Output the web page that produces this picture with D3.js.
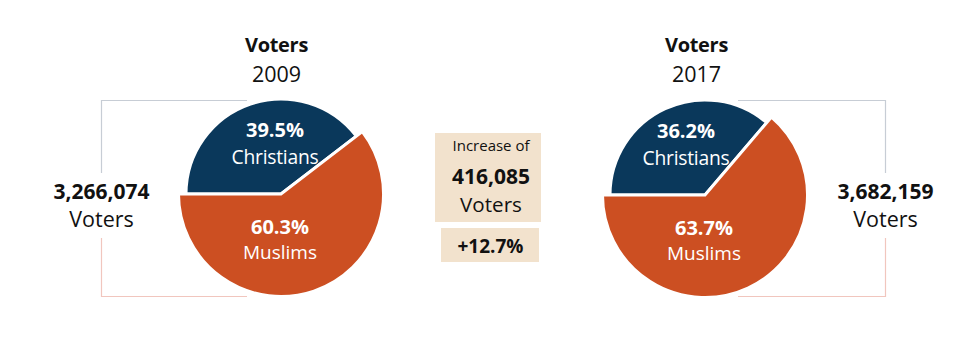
<!DOCTYPE html>
<html>
<head>
<meta charset="utf-8">
<script src="https://cdn.jsdelivr.net/npm/d3@7"></script>
<style>
  html, body { margin: 0; padding: 0; background: #fff; }
  svg { display: block; font-family: "Open Sans", "Noto Sans", sans-serif; }
</style>
</head>
<body>
<svg id="chart" width="980" height="338"></svg>
<script>
// Voter composition by religion, two election years
const years = ["2009", "2017"];
const categories = ["Christians", "Muslims"];
const shares2009 = [39.5, 60.3];
const shares2017 = [36.2, 63.7];
const voterTotals = [3266074, 3682159];
const increaseVoters = [416085];
const increasePercent = [12.7];

const colors = { Christians: "#0a385b", Muslims: "#cc4f22" };
const radius = { Christians: 95, Muslims: 102.5 };
const ink = "#111";

const svg = d3.select("#chart");
const fmtInt = d3.format(",");
const fmtPct = d3.format(".1f");

const pies = [
  { year: years[0], shares: shares2009, total: voterTotals[0], cx: 281, cy: 194, side: "left",  labelDx: [-6, -1],  titleDx: -4.5 },
  { year: years[1], shares: shares2017, total: voterTotals[1], cx: 705, cy: 195, side: "right", labelDx: [-19, -1], titleDx: -8.5 }
];

const pie = d3.pie().sort(null).value(d => d.value)
  .startAngle(-Math.PI / 2).endAngle(1.5 * Math.PI);

// label placement per category: [value, name] baselines
const labelY = { Christians: [-57, -30], Muslims: [40, 65] };
const nameStyle = {
  Christians: { size: 19.3, spacing: -0.25 },
  Muslims: { size: 19, spacing: 0 }
};

pies.forEach(p => {
  const data = categories.map((c, i) => ({ category: c, value: p.shares[i] }));
  const arcs = pie(data);
  const g = svg.append("g").attr("transform", `translate(${p.cx},${p.cy})`);

  g.selectAll("path.slice")
    .data(arcs)
    .join("path")
    .attr("class", "slice")
    .attr("d", d => d3.arc().innerRadius(0).outerRadius(radius[d.data.category])(d))
    .attr("fill", d => colors[d.data.category])
    .attr("stroke", "#fff")
    .attr("stroke-width", 3)
    .attr("stroke-linejoin", "miter");

  arcs.forEach((a, i) => {
    const c = a.data.category;
    const dx = p.labelDx[i];
    g.append("text")
      .attr("x", dx).attr("y", labelY[c][0])
      .attr("text-anchor", "middle")
      .attr("fill", "#fff")
      .attr("font-weight", 700)
      .attr("font-size", 20)
      .text(fmtPct(a.data.value) + "%");
    g.append("text")
      .attr("x", dx).attr("y", labelY[c][1])
      .attr("text-anchor", "middle")
      .attr("fill", "#fff")
      .attr("font-size", nameStyle[c].size)
      .attr("letter-spacing", nameStyle[c].spacing)
      .text(c);
  });

  // heading
  svg.append("text")
    .attr("x", p.cx + p.titleDx).attr("y", 52)
    .attr("text-anchor", "middle").attr("font-weight", 700).attr("font-size", 20)
    .attr("letter-spacing", -0.3)
    .attr("fill", ink).text("Voters");
  svg.append("text")
    .attr("x", p.cx + p.titleDx).attr("y", 82)
    .attr("text-anchor", "middle").attr("font-size", 21.5)
    .attr("fill", ink).text(p.year);

  // bracket around the pie carrying the voter total
  const bx = p.side === "left" ? 101.5 : 885.5;
  const ex = p.side === "left" ? 247 : 738;
  const top = 100.5, bottom = 296.5, gapTop = 173, gapBottom = 238;
  svg.append("path")
    .attr("d", `M${ex},${top}H${bx}V${gapTop}`)
    .attr("fill", "none").attr("stroke", "#c7cdd5").attr("stroke-width", 1.2);
  svg.append("path")
    .attr("d", `M${bx},${gapBottom}V${bottom}H${ex}`)
    .attr("fill", "none").attr("stroke", "#f1c6be").attr("stroke-width", 1.2);

  svg.append("text")
    .attr("x", bx).attr("y", 199)
    .attr("text-anchor", "middle").attr("font-weight", 700).attr("font-size", 21)
    .attr("fill", ink).text(fmtInt(p.total));
  svg.append("text")
    .attr("x", bx).attr("y", 227)
    .attr("text-anchor", "middle").attr("font-size", 21.5)
    .attr("fill", ink).text("Voters");
});

// change between the two years
const mid = svg.append("g");
mid.append("rect").attr("x", 435).attr("y", 133).attr("width", 106).attr("height", 89).attr("fill", "#f2e2cd");
mid.append("rect").attr("x", 441).attr("y", 228).attr("width", 98).attr("height", 34).attr("fill", "#f2e2cd");
mid.append("text").attr("x", 491).attr("y", 151).attr("text-anchor", "middle")
  .attr("font-size", 15).attr("fill", ink).text("Increase of");
mid.append("text").attr("x", 491).attr("y", 183.5).attr("text-anchor", "middle")
  .attr("font-weight", 700).attr("font-size", 21).attr("fill", ink).text(fmtInt(increaseVoters[0]));
mid.append("text").attr("x", 491).attr("y", 212).attr("text-anchor", "middle")
  .attr("font-size", 20.6).attr("fill", ink).text("Voters");
mid.append("text").attr("x", 490.5).attr("y", 253).attr("text-anchor", "middle")
  .attr("font-weight", 700).attr("font-size", 19).attr("fill", ink).text("+" + fmtPct(increasePercent[0]) + "%");
</script>
</body>
</html>
